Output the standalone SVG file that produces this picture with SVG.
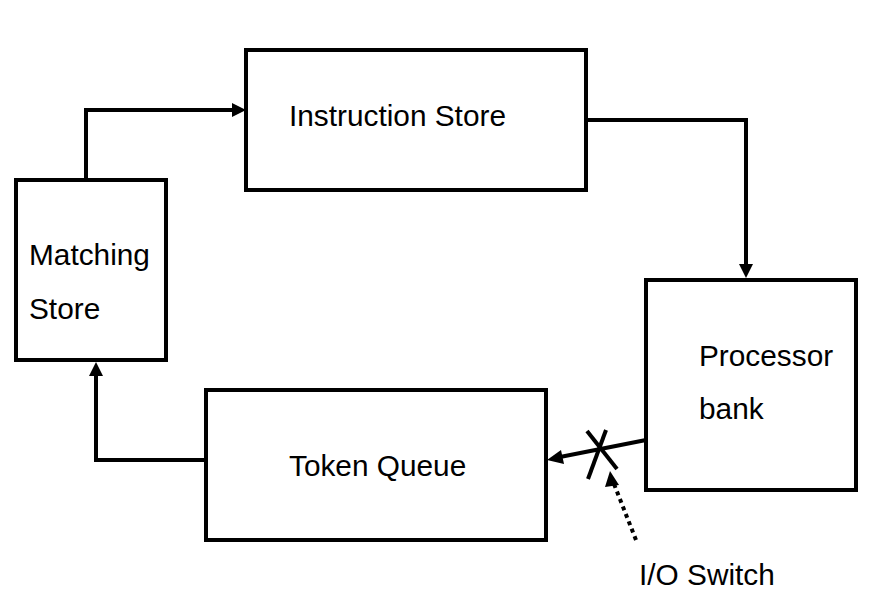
<svg xmlns="http://www.w3.org/2000/svg" width="889" height="606" viewBox="0 0 889 606">
<defs>
<style>
.box{fill:#fff;stroke:#000;stroke-width:4}
.lbl{font-family:"Liberation Sans",Arial,sans-serif;font-size:29.8px;fill:#000}
.con{fill:none;stroke:#000;stroke-width:4}
</style>
</defs>
<rect width="889" height="606" fill="#fff"/>
<g id="connectors">
<path class="con" d="M86,180 L86,110 L234,110" />
<path d="M232,103 L246,110 L232,117 z" fill="#000"/>
<path class="con" d="M586,120 L746,120 L746,266" />
<path d="M739,264 L746,278 L753,264 z" fill="#000"/>
<path class="con" d="M206,460 L96,460 L96,374" />
<path d="M89,376 L96,362 L103,376 z" fill="#000"/>
<path class="con" d="M646,440 L560,457" />
<path d="M561,450 L547,460 L564,464 z" fill="#000"/>
<path class="con" d="M587,431 L617,469" stroke-width="5"/>
<path class="con" d="M606,430 L588,479" stroke-width="5"/>
<path class="con" d="M636,540 L614,484" stroke-dasharray="4,4"/>
<path d="M605,487 L610,471 L619,485 z" fill="#000"/>
</g>
<g id="instruction-store">
<rect class="box" x="246" y="50" width="340" height="140"/>
<text class="lbl" x="289" y="126">Instruction Store</text>
</g>
<g id="matching-store">
<rect class="box" x="16" y="180" width="150" height="180"/>
<text class="lbl" x="29" y="265">Matching</text>
<text class="lbl" x="29" y="319">Store</text>
</g>
<g id="processor-bank">
<rect class="box" x="646" y="280" width="210" height="210"/>
<text class="lbl" x="699" y="366">Processor</text>
<text class="lbl" x="699" y="419">bank</text>
</g>
<g id="token-queue">
<rect class="box" x="206" y="390" width="340" height="150"/>
<text class="lbl" x="289" y="476">Token Queue</text>
</g>
<g id="io-switch">
<text class="lbl" x="639" y="585">I/O Switch</text>
</g>
</svg>
